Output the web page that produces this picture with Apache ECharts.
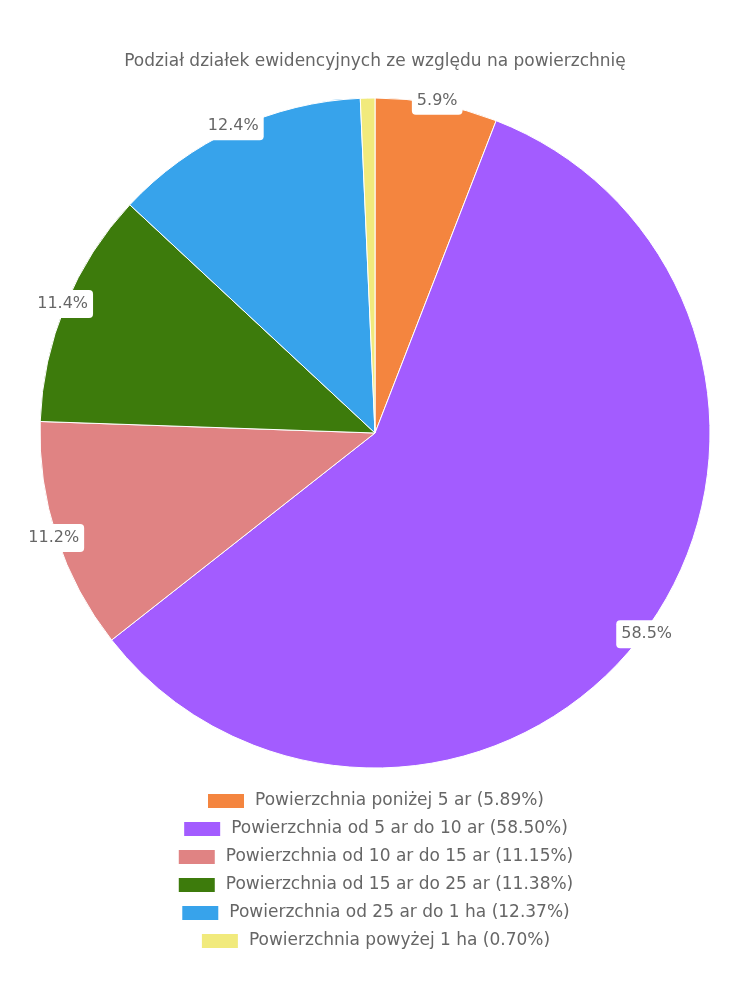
<!DOCTYPE html>
<html><head><meta charset="utf-8">
<script src="https://cdn.jsdelivr.net/npm/echarts@6/dist/echarts.min.js"></script>
<style>html,body{margin:0;padding:0;background:#fff}#c{width:750px;height:1000px}</style>
</head><body><div id="c"></div>
<script>
const titleText = 'Podział działek ewidencyjnych ze względu na powierzchnię';
const categories = [
  'Powierzchnia poniżej 5 ar',
  'Powierzchnia od 5 ar do 10 ar',
  'Powierzchnia od 10 ar do 15 ar',
  'Powierzchnia od 15 ar do 25 ar',
  'Powierzchnia od 25 ar do 1 ha',
  'Powierzchnia powyżej 1 ha'
];
const values = [5.89, 58.50, 11.15, 11.38, 12.37, 0.70];
const colors = ['#f4853f', '#a35cff', '#e08383', '#3d7b0c', '#37a3eb', '#f1ea7c'];

const FONT = 'DejaVu Sans';
const chart = echarts.init(document.getElementById('c'), null, {renderer: 'canvas'});
const data = categories.map((n, i) => ({name: n, value: values[i], itemStyle: {color: colors[i]}}));
const legends = categories.map((n, i) => ({
  data: [n],
  left: 'center',
  top: 787 + i * 28,
  itemWidth: 38,
  itemHeight: 16,
  icon: 'rect',
  selectedMode: false,
  formatter: name => name + ' (' + values[categories.indexOf(name)].toFixed(2) + '%)',
  textStyle: {fontFamily: FONT, fontSize: 17, color: '#666', padding: [0, 0, 0, 5]}
}));
chart.setOption({
  animation: false,
  title: {
    text: titleText, left: 'center', top: 48,
    textStyle: {fontFamily: FONT, fontSize: 17, fontWeight: 'normal', color: '#666'}
  },
  legend: legends,
  series: [
    {
      type: 'pie',
      center: [375, 433],
      radius: [0, 335],
      startAngle: 90,
      clockwise: true,
      data: data,
      label: {show: false},
      labelLine: {show: false},
      itemStyle: {borderColor: '#fff', borderWidth: 1},
      emphasis: {disabled: true}
    },
    {
      type: 'pie',
      silent: true,
      center: [375, 433],
      radius: [0, 670],
      startAngle: 90,
      clockwise: true,
      data: categories.map((n, i) => ({name: n, value: values[i], label: {show: values[i] >= 1}})),
      itemStyle: {color: 'rgba(0,0,0,0)', borderWidth: 0},
      avoidLabelOverlap: false,
      label: {
        show: true,
        position: 'inside',
        formatter: p => values[p.dataIndex].toFixed(1) + '%',
        fontFamily: FONT, fontSize: 16, color: '#666',
        backgroundColor: '#fff', borderRadius: 4, padding: [6, 5]
      },
      labelLine: {show: false},
      emphasis: {disabled: true}
    }
  ]
});
</script></body></html>
